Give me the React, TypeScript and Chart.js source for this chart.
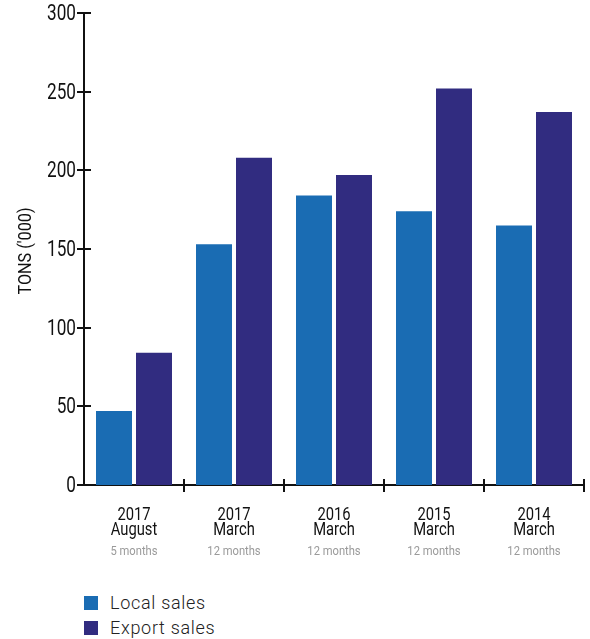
import React, { useEffect, useRef } from "react";
import { Chart, registerables } from "chart.js";

Chart.register(...registerables);

const years = ["2017", "2017", "2016", "2015", "2014"];
const months = ["August", "March", "March", "March", "March"];
const periods = ["5 months", "12 months", "12 months", "12 months", "12 months"];
const localSales = [47, 153, 184, 174, 165];
const exportSales = [84, 208, 197, 252, 237];
const yTicks = [0, 50, 100, 150, 200, 250, 300];
const seriesNames = ["Local sales", "Export sales"];
const yTitle = "TONS ('000)";

const LOCAL = "#1a6cb3";
const EXPORT = "#312c80";
const FONT = "Roboto, sans-serif";

function condensedText(ctx: any, text: string, x: number, y: number, sx: number) {
  ctx.save();
  ctx.translate(x, y);
  ctx.scale(sx, 1);
  ctx.fillText(text, 0, 0);
  ctx.restore();
}

const axisPlugin = {
  id: "customAxis",
  afterDraw(chart: any) {
    const ctx = chart.ctx;
    const x = chart.scales.x;
    const y = chart.scales.y;
    const area = chart.chartArea;
    ctx.save();
    ctx.strokeStyle = "#111";
    ctx.lineWidth = 2;
    yTicks.forEach((v) => {
      const py = Math.round(y.getPixelForValue(v));
      ctx.beginPath();
      ctx.moveTo(area.left - 7, py);
      ctx.lineTo(area.left + 7, py);
      ctx.stroke();
      ctx.fillStyle = "#111";
      ctx.font = `22px ${FONT}`;
      ctx.textAlign = "right";
      ctx.textBaseline = "middle";
      condensedText(ctx, String(v), area.left - 8, py + 1, 0.78);
    });
    const n = years.length;
    for (let i = 1; i <= n; i++) {
      const px = Math.round(x.getPixelForValue(i - 0.5));
      ctx.beginPath();
      ctx.moveTo(px, area.bottom - 6);
      ctx.lineTo(px, area.bottom + 7);
      ctx.stroke();
    }
    ctx.textAlign = "center";
    ctx.textBaseline = "alphabetic";
    for (let i = 0; i < n; i++) {
      const px = x.getPixelForValue(i);
      ctx.fillStyle = "#111";
      ctx.font = `18px ${FONT}`;
      condensedText(ctx, years[i], px, area.bottom + 35, 0.82);
      condensedText(ctx, months[i], px, area.bottom + 50, 0.82);
      ctx.fillStyle = "#9a9a9a";
      ctx.font = `13px ${FONT}`;
      condensedText(ctx, periods[i], px, area.bottom + 70, 0.86);
    }
    ctx.save();
    ctx.translate(31, 251);
    ctx.rotate(-Math.PI / 2);
    ctx.fillStyle = "#111";
    ctx.font = `18px ${FONT}`;
    ctx.textAlign = "center";
    ctx.textBaseline = "alphabetic";
    condensedText(ctx, yTitle, 0, 0, 0.9);
    ctx.restore();
    ctx.restore();
  },
};

export default function App() {
  const ref = useRef<HTMLCanvasElement>(null);
  useEffect(() => {
    const chart = new Chart(ref.current as HTMLCanvasElement, {
      type: "bar",
      data: {
        labels: years.map((y, i) => `${y} ${months[i]}`),
        datasets: [
          { label: seriesNames[0], data: localSales, backgroundColor: LOCAL, categoryPercentage: 0.8, barPercentage: 0.9 },
          { label: seriesNames[1], data: exportSales, backgroundColor: EXPORT, categoryPercentage: 0.8, barPercentage: 0.9 },
        ],
      },
      options: {
        responsive: false,
        animation: false,
        layout: { padding: { top: 13, right: 6, bottom: 0, left: 0 } },
        plugins: { legend: { display: false }, tooltip: { enabled: false } },
        scales: {
          x: {
            grid: { display: false },
            border: { display: true, color: "#111", width: 2 },
            ticks: { display: false },
            afterFit: (s: any) => { s.height = 95; },
          },
          y: {
            min: 0,
            max: 300,
            grid: { display: false, drawTicks: false },
            border: { display: true, color: "#111", width: 2 },
            ticks: { display: false, stepSize: 50 },
            afterFit: (s: any) => { s.width = 84; },
          },
        },
      },
      plugins: [axisPlugin],
    });
    return () => chart.destroy();
  }, []);

  const legendItem = (label: string, color: string) => (
    <div style={{ display: "flex", alignItems: "center", height: 25 }}>
      <div style={{ width: 14, height: 14, background: color, marginRight: 12 }} />
      <span style={{ fontFamily: FONT, fontWeight: 300, fontSize: 18, letterSpacing: 0.7, color: "#222" }}>{label}</span>
    </div>
  );

  return (
    <div style={{ position: "absolute", left: 0, top: 0, width: 590, height: 639, background: "#fff" }}>
      <canvas ref={ref} width={590} height={580} style={{ display: "block" }} />
      <div style={{ position: "absolute", left: 84, top: 590 }}>
        {legendItem(seriesNames[0], LOCAL)}
        {legendItem(seriesNames[1], EXPORT)}
      </div>
    </div>
  );
}
